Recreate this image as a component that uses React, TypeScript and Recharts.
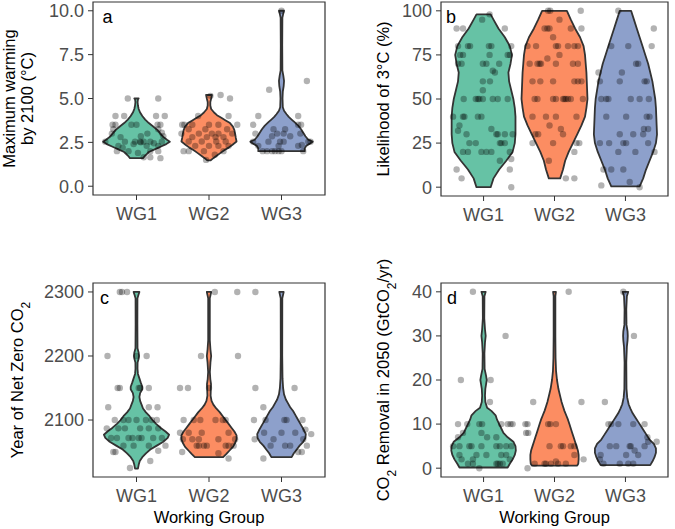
import React from "react";
import { ScatterChart, Scatter, XAxis, YAxis, ReferenceArea } from "recharts";

type Pair = [number, number];

const GROUPS = ["WG1", "WG2", "WG3"];
const FILLS = ["#66c2a5", "#fc8d62", "#8da0cb"];

// ---- panel a: maximum warming by 2100 ----
const warmTicks = [0, 2.5, 5, 7.5, 10];
// violin outlines: [value, half width in group units]
const warmShapeWG1: Pair[] = [[1.6, 0.09], [1.75, 0.12], [1.95, 0.17], [2.1, 0.25], [2.25, 0.33], [2.4, 0.41], [2.54, 0.46], [2.65, 0.42], [2.8, 0.37], [3.0, 0.33], [3.2, 0.29], [3.4, 0.23], [3.6, 0.17], [3.8, 0.12], [4.0, 0.08], [4.2, 0.05], [4.4, 0.03], [4.6, 0.02], [4.8, 0.015], [4.95, 0.02], [5.0, 0.03]];
const warmShapeWG2: Pair[] = [[1.47, 0.02], [1.6, 0.06], [1.75, 0.11], [1.9, 0.16], [2.05, 0.21], [2.2, 0.27], [2.35, 0.32], [2.55, 0.38], [2.75, 0.37], [3.0, 0.36], [3.2, 0.35], [3.4, 0.33], [3.6, 0.29], [3.75, 0.23], [3.9, 0.17], [4.05, 0.11], [4.2, 0.07], [4.4, 0.03], [4.6, 0.018], [4.8, 0.018], [5.0, 0.03], [5.2, 0.04]];
const warmShapeWG3: Pair[] = [[2.0, 0.32], [2.15, 0.32], [2.3, 0.34], [2.45, 0.4], [2.54, 0.43], [2.65, 0.37], [2.85, 0.33], [3.05, 0.3], [3.25, 0.27], [3.45, 0.23], [3.65, 0.18], [3.8, 0.14], [3.95, 0.1], [4.1, 0.07], [4.3, 0.035], [4.5, 0.018], [5.0, 0.014], [5.4, 0.018], [5.7, 0.03], [6.0, 0.035], [6.3, 0.025], [6.6, 0.012], [8.0, 0.01], [9.6, 0.012], [9.85, 0.025], [10.0, 0.035]];
// jittered responses: [offset, value]
const warmPtsWG1: Pair[] = [[-0.12, 5.0], [0.3, 5.0], [-0.29, 4.0], [-0.17, 4.0], [0.27, 4.0], [0.39, 4.0], [-0.33, 3.5], [-0.29, 3.5], [-0.07, 3.5], [0.0, 3.5], [0.29, 3.5], [0.33, 3.5], [-0.32, 3.25], [0.3, 3.25], [0.35, 3.05], [-0.34, 3.0], [0.06, 2.85], [0.37, 2.85], [-0.43, 2.54], [-0.16, 2.54], [-0.02, 2.54], [0.05, 2.54], [0.1, 2.54], [0.19, 2.54], [0.35, 2.54], [-0.04, 2.4], [0.06, 2.5], [-0.25, 2.3], [0.14, 2.3], [0.3, 2.3], [-0.19, 2.2], [-0.27, 2.0], [-0.11, 2.0], [0.19, 2.0], [0.3, 2.0], [0.02, 1.9], [0.1, 1.65], [0.19, 1.65], [0.33, 1.6], [-0.22, 2.8], [0.15, 3.0], [0.24, 2.45]];
const warmPtsWG2: Pair[] = [[0.02, 5.15], [0.16, 5.2], [0.29, 5.0], [-0.15, 4.0], [0.27, 4.0], [-0.37, 3.5], [-0.34, 3.5], [-0.23, 3.5], [0.0, 3.5], [0.13, 3.5], [0.39, 3.5], [-0.28, 3.25], [-0.05, 3.25], [0.25, 3.25], [-0.38, 3.0], [-0.14, 3.0], [0.04, 3.0], [0.13, 3.0], [0.32, 3.0], [-0.23, 2.8], [-0.03, 2.8], [0.09, 2.8], [0.2, 2.8], [-0.28, 2.55], [-0.1, 2.55], [0.1, 2.55], [0.23, 2.55], [-0.19, 2.3], [0.0, 2.3], [0.13, 2.3], [0.27, 2.3], [-0.35, 2.0], [-0.28, 2.0], [-0.07, 2.0], [0.2, 2.0], [0.08, 1.8], [-0.04, 1.5]];
const warmPtsWG3: Pair[] = [[0.0, 10.0], [0.35, 6.0], [-0.17, 5.5], [-0.32, 4.0], [0.23, 4.0], [-0.39, 3.5], [0.23, 3.5], [0.27, 3.5], [-0.11, 3.25], [0.05, 3.25], [-0.36, 3.0], [-0.06, 3.0], [0.03, 3.0], [0.26, 3.0], [-0.13, 2.85], [0.12, 2.85], [-0.39, 2.54], [-0.18, 2.54], [-0.02, 2.54], [0.03, 2.54], [0.37, 2.54], [0.4, 2.54], [-0.32, 2.3], [-0.04, 2.3], [0.23, 2.3], [0.28, 2.35], [-0.26, 2.0], [-0.2, 2.0], [-0.13, 2.0], [-0.09, 2.0], [-0.04, 2.0], [0.0, 2.0], [0.3, 2.0]];

// ---- panel b: likelihood of 3°C ----
const likeTicks = [0, 25, 50, 75, 100];
const likeShapeWG1: Pair[] = [[0, 0.1], [5, 0.14], [10, 0.22], [15, 0.32], [20, 0.41], [25, 0.44], [30, 0.45], [35, 0.45], [40, 0.45], [45, 0.44], [50, 0.42], [55, 0.39], [60, 0.36], [65, 0.35], [70, 0.38], [75, 0.4], [80, 0.37], [85, 0.3], [90, 0.21], [95, 0.14], [98, 0.1]];
const likeShapeWG2: Pair[] = [[5, 0.08], [10, 0.12], [15, 0.15], [20, 0.2], [25, 0.26], [30, 0.32], [35, 0.38], [40, 0.43], [45, 0.45], [50, 0.465], [55, 0.46], [60, 0.455], [65, 0.45], [70, 0.44], [75, 0.43], [80, 0.41], [85, 0.36], [90, 0.29], [95, 0.23], [100, 0.175]];
const likeShapeWG3: Pair[] = [[0.5, 0.2], [5, 0.25], [10, 0.29], [15, 0.34], [20, 0.39], [25, 0.43], [30, 0.445], [35, 0.44], [40, 0.435], [45, 0.43], [50, 0.42], [55, 0.4], [60, 0.38], [65, 0.35], [70, 0.32], [75, 0.28], [80, 0.24], [85, 0.2], [90, 0.16], [95, 0.12], [100, 0.08]];
const likePtsWG1: Pair[] = [[0.085, 98], [-0.02, 95], [-0.38, 90], [-0.29, 90], [0.3, 90], [-0.36, 80], [-0.22, 80], [-0.19, 80], [0.075, 80], [0.11, 80], [0.39, 80], [-0.33, 75], [-0.29, 75], [0.085, 75], [0.34, 75], [0.37, 75], [-0.36, 70], [-0.31, 70], [-0.01, 70], [0.04, 70], [0.22, 70], [0.13, 66], [0.16, 65], [-0.01, 60], [0.09, 60], [-0.01, 55], [-0.28, 50], [-0.11, 50], [-0.08, 50], [-0.06, 50], [-0.01, 50], [0.13, 50], [0.2, 50], [0.34, 50], [-0.43, 40], [-0.29, 40], [-0.27, 40], [-0.08, 40], [-0.03, 40], [-0.34, 35], [0.11, 33], [-0.36, 32], [-0.24, 30], [0.18, 30], [0.2, 30], [0.3, 30], [0.41, 30], [-0.2, 25], [-0.11, 25], [0.23, 25], [0.25, 25], [0.3, 25], [-0.29, 20], [-0.22, 20], [-0.03, 20], [0.04, 20], [0.11, 20], [0.37, 20], [0.23, 15], [0.39, 16], [-0.38, 10], [0.37, 10], [-0.31, 5], [0.39, 0]];
const likePtsWG2: Pair[] = [[-0.09, 100], [-0.06, 100], [0.37, 100], [0.07, 95], [-0.14, 90], [-0.1, 90], [-0.07, 90], [0.23, 90], [0.38, 90], [-0.02, 85], [-0.38, 80], [-0.26, 80], [0.02, 80], [0.05, 80], [0.19, 80], [0.28, 80], [0.33, 80], [0.07, 75], [-0.1, 73], [-0.35, 70], [-0.24, 70], [-0.21, 70], [-0.19, 70], [0.02, 70], [0.26, 70], [0.33, 70], [-0.31, 60], [-0.2, 60], [-0.02, 60], [0.28, 60], [0.33, 60], [0.38, 60], [-0.28, 50], [-0.24, 50], [-0.02, 50], [0.02, 50], [0.12, 50], [0.14, 50], [0.16, 50], [0.19, 50], [0.23, 50], [0.4, 50], [-0.31, 40], [-0.12, 40], [0.02, 40], [0.31, 40], [-0.07, 35], [0.09, 33], [-0.27, 30], [-0.23, 30], [0.12, 30], [-0.31, 25], [-0.02, 25], [0.31, 25], [0.35, 25], [0.28, 20], [-0.08, 15], [0.16, 5], [0.28, 5]];
const likePtsWG3: Pair[] = [[-0.1, 100], [0.4, 90], [-0.2, 80], [0.04, 80], [0.37, 80], [0.15, 70], [0.18, 70], [-0.38, 65], [-0.05, 65], [-0.36, 60], [-0.08, 60], [0.27, 60], [0.3, 60], [-0.34, 50], [-0.27, 50], [-0.24, 50], [0.075, 50], [0.2, 50], [0.33, 50], [-0.27, 40], [0.01, 40], [0.3, 40], [0.34, 40], [0.26, 33], [0.32, 33], [-0.08, 30], [0.11, 30], [0.25, 30], [-0.36, 25], [-0.23, 25], [-0.03, 25], [0.01, 25], [0.32, 25], [-0.1, 20], [0.14, 20], [0.41, 20], [-0.31, 10], [-0.2, 10], [-0.03, 10], [0.06, 3], [-0.34, 1], [0.2, 0]];

// ---- panel c: year of net zero CO2 ----
const yearTicks = [2100, 2200, 2300];
const yearShapeWG1: Pair[] = [[2024, 0.02], [2030, 0.03], [2036, 0.045], [2042, 0.08], [2048, 0.13], [2054, 0.19], [2060, 0.28], [2066, 0.37], [2072, 0.43], [2077, 0.45], [2082, 0.4], [2088, 0.33], [2094, 0.27], [2100, 0.22], [2106, 0.18], [2112, 0.13], [2118, 0.09], [2124, 0.07], [2130, 0.05], [2136, 0.04], [2142, 0.05], [2148, 0.08], [2152, 0.08], [2158, 0.06], [2165, 0.04], [2172, 0.02], [2180, 0.014], [2190, 0.015], [2196, 0.03], [2200, 0.035], [2205, 0.03], [2212, 0.014], [2250, 0.012], [2290, 0.013], [2295, 0.025], [2300, 0.04]];
const yearShapeWG2: Pair[] = [[2042, 0.195], [2047, 0.24], [2052, 0.28], [2058, 0.33], [2064, 0.36], [2070, 0.38], [2076, 0.38], [2082, 0.35], [2088, 0.31], [2094, 0.27], [2100, 0.23], [2106, 0.19], [2112, 0.15], [2118, 0.1], [2124, 0.06], [2130, 0.035], [2138, 0.022], [2148, 0.025], [2156, 0.028], [2164, 0.018], [2175, 0.012], [2190, 0.02], [2200, 0.03], [2210, 0.02], [2225, 0.011], [2290, 0.011], [2300, 0.03]];
const yearShapeWG3: Pair[] = [[2042, 0.14], [2048, 0.17], [2054, 0.21], [2060, 0.25], [2066, 0.3], [2072, 0.33], [2078, 0.335], [2084, 0.31], [2090, 0.28], [2096, 0.25], [2102, 0.22], [2108, 0.19], [2114, 0.16], [2120, 0.12], [2126, 0.09], [2132, 0.06], [2140, 0.035], [2150, 0.022], [2165, 0.014], [2200, 0.01], [2290, 0.011], [2300, 0.03]];
const yearPtsWG1: Pair[] = [[-0.23, 2300], [-0.2, 2300], [-0.13, 2300], [-0.4, 2200], [0.0, 2200], [0.14, 2200], [-0.26, 2150], [-0.23, 2150], [0.03, 2150], [0.05, 2150], [0.17, 2150], [-0.39, 2120], [0.17, 2120], [0.29, 2120], [-0.3, 2100], [-0.18, 2100], [-0.11, 2100], [0.0, 2100], [0.13, 2100], [0.21, 2100], [0.28, 2100], [-0.41, 2087], [-0.25, 2087], [-0.16, 2087], [0.05, 2087], [0.17, 2087], [0.3, 2087], [-0.35, 2072], [-0.27, 2072], [-0.11, 2072], [-0.055, 2072], [0.03, 2072], [0.07, 2072], [0.23, 2072], [0.35, 2072], [-0.18, 2060], [-0.04, 2060], [0.17, 2060], [0.4, 2060], [-0.32, 2050], [-0.29, 2050], [0.3, 2052], [0.19, 2036], [-0.09, 2025]];
const yearPtsWG2: Pair[] = [[0.08, 2300], [0.39, 2300], [-0.11, 2200], [0.4, 2200], [-0.4, 2150], [-0.29, 2150], [0.0, 2150], [-0.35, 2100], [-0.21, 2100], [-0.12, 2100], [0.09, 2100], [0.19, 2100], [0.23, 2100], [-0.4, 2080], [-0.28, 2080], [-0.1, 2080], [0.27, 2080], [-0.36, 2070], [-0.23, 2070], [-0.14, 2070], [0.13, 2070], [0.36, 2070], [-0.17, 2060], [-0.14, 2060], [-0.07, 2060], [-0.03, 2060], [0.23, 2060], [0.27, 2060], [0.34, 2060], [-0.37, 2050], [0.13, 2048], [0.27, 2040]];
const yearPtsWG3: Pair[] = [[-0.36, 2300], [-0.36, 2150], [0.18, 2150], [-0.25, 2120], [-0.38, 2100], [-0.22, 2100], [0.04, 2100], [0.07, 2100], [0.29, 2100], [-0.24, 2080], [0.0, 2080], [0.19, 2080], [0.33, 2085], [-0.37, 2070], [-0.11, 2070], [0.3, 2070], [0.41, 2078], [-0.15, 2060], [0.05, 2060], [0.12, 2060], [0.35, 2060], [-0.25, 2040], [0.23, 2050], [0.28, 2050]];

// ---- panel d: CO2 removal in 2050 ----
const cdrTicks = [0, 10, 20, 30, 40];
const cdrShapeWG1: Pair[] = [[0.15, 0.34], [1, 0.37], [2, 0.41], [3, 0.44], [4, 0.455], [5, 0.45], [6, 0.42], [7, 0.34], [8, 0.28], [9, 0.25], [10, 0.22], [11, 0.19], [12, 0.17], [13, 0.11], [13.7, 0.05], [15, 0.025], [16.5, 0.02], [18, 0.025], [19, 0.035], [20, 0.045], [21, 0.035], [22.5, 0.015], [26, 0.012], [28.5, 0.02], [30, 0.03], [31.5, 0.02], [34, 0.01], [39, 0.012], [40, 0.03]];
const cdrShapeWG2: Pair[] = [[0.6, 0.32], [1, 0.335], [2, 0.34], [3, 0.34], [4, 0.33], [5, 0.31], [6, 0.29], [7, 0.27], [8, 0.25], [9, 0.23], [10, 0.21], [11, 0.19], [12, 0.165], [13, 0.14], [14, 0.12], [15, 0.1], [16, 0.085], [17, 0.07], [18, 0.055], [19, 0.045], [20, 0.035], [22, 0.022], [25, 0.015], [30, 0.012], [39, 0.012], [40, 0.02]];
const cdrShapeWG3: Pair[] = [[0.7, 0.35], [1.5, 0.38], [2.5, 0.41], [3.5, 0.43], [4.5, 0.43], [5.5, 0.4], [6.5, 0.34], [7.5, 0.3], [8.5, 0.26], [9.5, 0.22], [10.5, 0.18], [11.5, 0.14], [12.5, 0.1], [13.5, 0.07], [14.5, 0.045], [16, 0.025], [18, 0.015], [24, 0.012], [27.5, 0.02], [29, 0.03], [30, 0.033], [31, 0.03], [32.5, 0.015], [36, 0.012], [39, 0.02], [40, 0.04]];
const cdrPtsWG1: Pair[] = [[-0.15, 40], [0.31, 30], [-0.32, 20], [0.1, 20], [0.09, 15], [-0.36, 10], [-0.23, 10], [-0.06, 10], [-0.02, 10], [0.25, 10], [0.34, 10], [0.38, 10], [0.41, 10], [-0.29, 8], [-0.03, 8], [-0.36, 7], [0.05, 7], [0.18, 7], [-0.43, 5], [-0.34, 5], [-0.2, 5], [-0.17, 5], [-0.03, 5], [0.18, 5], [0.23, 5], [0.32, 5], [0.39, 5], [-0.34, 3], [-0.1, 3], [0.04, 3], [0.25, 3], [0.32, 3], [-0.31, 2], [-0.15, 2], [0.37, 2], [-0.22, 1], [-0.15, 1], [0.18, 1], [0.2, 1], [0.23, 1], [0.27, 1], [-0.06, 0]];
const cdrPtsWG2: Pair[] = [[0.2, 40], [-0.3, 15], [0.38, 15], [-0.41, 10], [-0.38, 10], [-0.09, 10], [-0.06, 10], [0.02, 10], [-0.4, 8], [-0.37, 8], [-0.07, 5], [0.09, 5], [0.12, 5], [0.23, 5], [0.28, 5], [0.28, 3], [0.41, 2], [-0.28, 1], [-0.14, 1], [-0.12, 1], [-0.05, 1], [0.05, 1], [0.16, 1], [0.02, 1.5], [-0.38, 0]];
const cdrPtsWG3: Pair[] = [[-0.03, 40], [0.12, 30], [-0.29, 15], [-0.24, 10], [-0.2, 10], [-0.1, 10], [0.11, 10], [0.27, 10], [0.31, 7], [0.44, 6], [0.32, 6], [-0.22, 5], [-0.13, 5], [0.06, 5], [0.075, 5], [0.27, 5], [0.13, 4], [0.18, 3], [0.01, 3], [-0.35, 3], [-0.36, 2], [-0.31, 1], [-0.08, 1], [0.04, 1], [0.11, 1]];

function outline(center: number, profile: Pair[]) {
  const left = profile.map(([y, w]) => ({ x: center - w, y }));
  const right = [...profile].reverse().map(([y, w]) => ({ x: center + w, y }));
  return [...left, ...right];
}

function jitter(center: number, pts: Pair[]) {
  return pts.map(([dx, y]) => ({ x: center + dx, y }));
}

const sub = (t: string) => (
  <tspan baselineShift="sub" fontSize={12}>{t}</tspan>
);

const PANELS = [
  {
    letter: "a", left: 0, top: 0, width: 337, height: 240, mTop: 2, mRight: 12, yw: 93, xh: 45, letterDx: 9.5,
    domain: [-0.5, 10.5], ticks: warmTicks, fmt: (v: number) => v.toFixed(1),
    shapes: [warmShapeWG1, warmShapeWG2, warmShapeWG3], pts: [warmPtsWG1, warmPtsWG2, warmPtsWG3],
    title: [<>Maximum warming</>, <>by 2100 (°C)</>], titleX: [15, 32.5], xTitle: false,
  },
  {
    letter: "b", left: 337, top: 0, width: 338, height: 240, mTop: 2, mRight: 7, yw: 104, xh: 44, letterDx: 5,
    domain: [-5, 105], ticks: likeTicks, fmt: (v: number) => String(v),
    shapes: [likeShapeWG1, likeShapeWG2, likeShapeWG3], pts: [likePtsWG1, likePtsWG2, likePtsWG3],
    title: [<>Likelihood of 3°C (%)</>], titleX: [51.5], xTitle: false,
  },
  {
    letter: "c", left: 0, top: 240, width: 337, height: 289, mTop: 43, mRight: 12, yw: 93, xh: 52, letterDx: 7,
    domain: [2011, 2314], ticks: yearTicks, fmt: (v: number) => String(v),
    shapes: [yearShapeWG1, yearShapeWG2, yearShapeWG3], pts: [yearPtsWG1, yearPtsWG2, yearPtsWG3],
    title: [<>Year of Net Zero CO{sub("2")}</>], titleX: [22.5], xTitle: true,
  },
  {
    letter: "d", left: 337, top: 240, width: 338, height: 289, mTop: 43, mRight: 7, yw: 104, xh: 52, letterDx: 6,
    domain: [-2, 42], ticks: cdrTicks, fmt: (v: number) => String(v),
    shapes: [cdrShapeWG1, cdrShapeWG2, cdrShapeWG3], pts: [cdrPtsWG1, cdrPtsWG2, cdrPtsWG3],
    title: [<>CO{sub("2")}<tspan baselineShift="0"> Removal in 2050 (GtCO</tspan>{sub("2")}<tspan>/yr)</tspan></>], titleX: [51.5], xTitle: true,
  },
];

const dot = (p: any) => <circle cx={p.cx} cy={p.cy} r={3.2} fill="#000" fillOpacity={0.3} />;
const noDot = () => <g />;

function Panel({ p }: { p: (typeof PANELS)[number] }) {
  const plotTop = p.mTop;
  const plotBottom = p.height - p.xh;
  const plotLeft = p.yw;
  const plotRight = p.width - p.mRight;
  const cy = (plotTop + plotBottom) / 2;
  const cx = (plotLeft + plotRight) / 2;

  const yTitle = () => (
    <g>
      {p.title.map((ln, i) => (
        <text key={i} x={p.titleX[i]} y={cy} transform={`rotate(-90 ${p.titleX[i]} ${cy})`} textAnchor="middle" fontSize={16.5} fill="#000">
          {ln}
        </text>
      ))}
    </g>
  );
  const xTitle = () =>
    p.xTitle ? (
      <text x={cx} y={plotBottom + 45.7} textAnchor="middle" fontSize={16.5} fill="#000">
        Working Group
      </text>
    ) : null;
  const letter = () => (
    <text x={plotLeft + p.letterDx} y={plotTop + 21} fontSize={18} fill="#000">
      {p.letter}
    </text>
  );

  return (
    <div style={{ position: "absolute", left: p.left, top: p.top }}>
      <ScatterChart width={p.width} height={p.height} margin={{ top: p.mTop, right: p.mRight, left: 0, bottom: 0 }}>
        <XAxis
          type="number" dataKey="x" domain={[0.4, 3.6]} ticks={[1, 2, 3]} allowDataOverflow
          tickFormatter={(v: number) => GROUPS[Math.round(v) - 1]} height={p.xh}
          axisLine={false} tickLine={{ stroke: "#333333" }} tickSize={5} tickMargin={7}
          tick={{ fill: "#4d4d4d", fontSize: 18 }} label={{ content: xTitle }}
        />
        <YAxis
          type="number" dataKey="y" domain={p.domain} ticks={p.ticks} allowDataOverflow
          tickFormatter={p.fmt} width={p.yw}
          axisLine={false} tickLine={{ stroke: "#333333" }} tickSize={5} tickMargin={4}
          tick={{ fill: "#4d4d4d", fontSize: 18 }} label={{ content: yTitle }}
        />
        {p.shapes.map((s, i) => (
          <Scatter
            key={"v" + i} data={outline(i + 1, s)} shape={noDot} isAnimationActive={false}
            line={{ fill: FILLS[i], stroke: "#333333", strokeWidth: 1.8, strokeLinejoin: "round" }}
            lineJointType="linearClosed" fill={FILLS[i]}
          />
        ))}
        {p.pts.map((s, i) => (
          <Scatter key={"p" + i} data={jitter(i + 1, s)} shape={dot} isAnimationActive={false} fill="#000" />
        ))}
        <ReferenceArea
          x1={0.4} x2={3.6} y1={p.domain[0]} y2={p.domain[1]} fill="none" stroke="#333333" strokeWidth={1.2}
          fillOpacity={0} label={{ content: letter }} ifOverflow="visible"
        />
      </ScatterChart>
    </div>
  );
}

export default function App() {
  return (
    <div style={{ position: "absolute", left: 0, top: 0, width: 675, height: 529, background: "#fff", fontFamily: "'Liberation Sans', Arial, sans-serif" }}>
      {PANELS.map((p) => (
        <Panel key={p.letter} p={p} />
      ))}
    </div>
  );
}
